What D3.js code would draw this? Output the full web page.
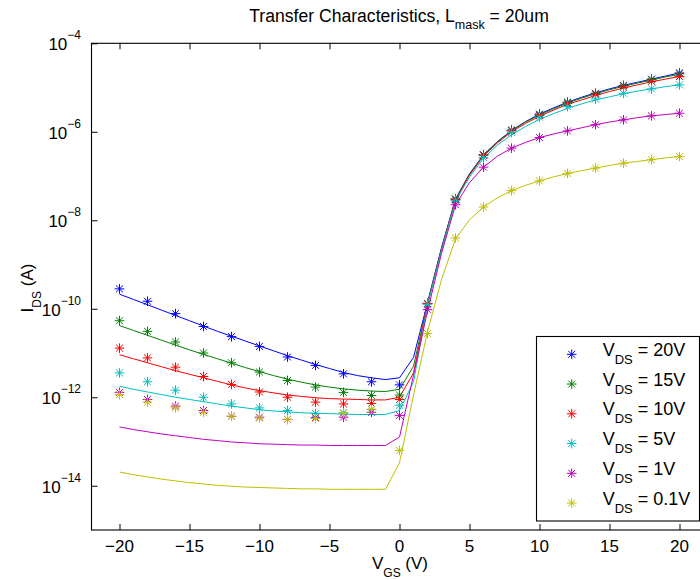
<!DOCTYPE html>
<html>
<head>
<meta charset="utf-8">
<script src="https://cdn.jsdelivr.net/npm/d3@7"></script>
<style>
  body { margin: 0; background: #fff; }
  svg { display: block; font-family: "Liberation Sans", Arial, sans-serif; }
</style>
</head>
<body>
<svg id="chart" width="700" height="580"></svg>
<script>
// gate voltage of the measured points (V)
const vgsMeas = [-20, -18, -16, -14, -12, -10, -8, -6, -4, -2, 0, 2, 4, 6, 8, 10, 12, 14, 16, 18, 20];
// gate voltage of the model curves (V)
const vgsFit = [-20, -19, -18, -17, -16, -15, -14, -13, -12, -11, -10, -9, -8, -7, -6, -5, -4, -3, -2, -1,
  0, 1, 2, 3, 4, 5, 6, 7, 8, 9, 10, 11, 12, 13, 14, 15, 16, 17, 18, 19, 20];

const seriesNames = ['20V', '15V', '10V', '5V', '1V', '0.1V'];
const seriesColors = ['#0000ff', '#008000', '#ff0000', '#00bfbf', '#bf00bf', '#bfbf00'];

// measured points, log10 of I_DS (A)
const meas20 = [-9.55, -9.83, -10.11, -10.40, -10.63, -10.85, -11.09, -11.28, -11.47, -11.65, -11.72, -9.88, -7.52, -6.52, -5.96, -5.60, -5.33, -5.13, -4.95, -4.81, -4.67];
const meas15 = [-10.27, -10.51, -10.75, -11.00, -11.22, -11.43, -11.62, -11.77, -11.89, -11.96, -11.95, -9.88, -7.52, -6.52, -5.97, -5.61, -5.34, -5.14, -4.96, -4.82, -4.69];
const meas10 = [-10.89, -11.11, -11.32, -11.53, -11.71, -11.88, -12.00, -12.11, -12.15, -12.14, -12.05, -9.88, -7.53, -6.53, -5.98, -5.63, -5.36, -5.16, -4.99, -4.86, -4.75];
const meas5 = [-11.45, -11.65, -11.84, -12.00, -12.15, -12.24, -12.30, -12.37, -12.35, -12.28, -12.18, -9.90, -7.55, -6.58, -6.02, -5.67, -5.43, -5.26, -5.13, -5.03, -4.94];
const meas1 = [-11.89, -12.05, -12.20, -12.30, -12.43, -12.45, -12.50, -12.46, -12.45, -12.34, -12.41, -10.02, -7.65, -6.80, -6.37, -6.13, -5.98, -5.84, -5.73, -5.64, -5.58];
const meas01 = [-11.94, -12.11, -12.24, -12.34, -12.43, -12.47, -12.50, -12.48, -12.36, -12.27, -13.20, -10.56, -8.40, -7.70, -7.33, -7.11, -6.94, -6.82, -6.71, -6.63, -6.56];

// model curves, log10 of I_DS (A)
const fit20 = [-9.67, -9.79, -9.91, -10.03, -10.15, -10.27, -10.39, -10.51, -10.62, -10.73, -10.84, -10.95, -11.06, -11.16, -11.26, -11.35, -11.44, -11.51, -11.56, -11.60,
  -11.56, -11.10, -9.86, -8.62, -7.52, -6.95, -6.52, -6.22, -5.97, -5.77, -5.60, -5.46, -5.33, -5.22, -5.12, -5.03, -4.95, -4.88, -4.81, -4.74, -4.67];
const fit15 = [-10.38, -10.49, -10.60, -10.71, -10.82, -10.93, -11.03, -11.13, -11.23, -11.33, -11.42, -11.51, -11.59, -11.66, -11.72, -11.77, -11.81, -11.84, -11.86, -11.87,
  -11.82, -11.30, -9.88, -8.64, -7.53, -6.96, -6.53, -6.23, -5.98, -5.78, -5.62, -5.48, -5.35, -5.24, -5.14, -5.05, -4.97, -4.90, -4.83, -4.76, -4.70];
const fit10 = [-11.04, -11.13, -11.22, -11.31, -11.40, -11.48, -11.56, -11.64, -11.72, -11.79, -11.85, -11.90, -11.95, -11.98, -12.01, -12.03, -12.04, -12.05, -12.06, -12.06,
  -12.00, -11.45, -9.90, -8.66, -7.55, -6.98, -6.55, -6.25, -6.00, -5.81, -5.65, -5.51, -5.38, -5.28, -5.18, -5.09, -5.01, -4.94, -4.87, -4.81, -4.75];
const fit5 = [-11.75, -11.82, -11.88, -11.94, -12.00, -12.05, -12.10, -12.15, -12.20, -12.24, -12.28, -12.31, -12.33, -12.35, -12.36, -12.37, -12.38, -12.39, -12.39, -12.39,
  -12.30, -11.65, -9.92, -8.68, -7.57, -7.02, -6.60, -6.30, -6.07, -5.88, -5.72, -5.59, -5.47, -5.37, -5.28, -5.21, -5.14, -5.08, -5.03, -4.98, -4.94];
const fit1 = [-12.67, -12.73, -12.78, -12.83, -12.87, -12.91, -12.95, -12.98, -13.01, -13.03, -13.05, -13.06, -13.07, -13.08, -13.08, -13.09, -13.09, -13.09, -13.09, -13.09,
  -12.90, -11.50, -10.05, -8.75, -7.65, -7.15, -6.80, -6.55, -6.37, -6.24, -6.13, -6.05, -5.98, -5.91, -5.84, -5.78, -5.73, -5.68, -5.64, -5.61, -5.58];
const fit01 = [-13.69, -13.75, -13.80, -13.85, -13.89, -13.93, -13.96, -13.99, -14.01, -14.03, -14.04, -14.05, -14.06, -14.07, -14.07, -14.08, -14.08, -14.08, -14.08, -14.08,
  -13.48, -11.95, -10.52, -9.34, -8.42, -7.99, -7.70, -7.49, -7.33, -7.21, -7.11, -7.02, -6.94, -6.88, -6.82, -6.76, -6.71, -6.67, -6.63, -6.59, -6.56];

const xTicks = [-20, -15, -10, -5, 0, 5, 10, 15, 20];
const yTickExp = [-4, -6, -8, -10, -12, -14];

const measAll = [meas20, meas15, meas10, meas5, meas1, meas01];
const fitAll = [fit20, fit15, fit10, fit5, fit1, fit01];

const svg = d3.select('#chart');
const plotLeft = 91.5, plotRight = 707.5, plotTop = 43.3, plotBottom = 530;

const x = d3.scaleLinear().domain([-22, 22]).range([plotLeft, plotRight]);
const y = d3.scaleLog().domain([1e-15, 1e-4]).range([plotBottom, plotTop]);

svg.append('defs').append('clipPath').attr('id', 'plotclip')
  .append('rect').attr('x', plotLeft).attr('y', plotTop)
  .attr('width', plotRight - plotLeft).attr('height', plotBottom - plotTop);

// model curves
const line = d3.line()
  .x(d => x(d[0]))
  .y(d => y(Math.pow(10, d[1])));

const g = svg.append('g').attr('clip-path', 'url(#plotclip)');

const star = function(r) {
  let d = r * 0.72;
  return 'M' + (-r) + ',0H' + r + 'M0,' + (-r) + 'V' + r +
    'M' + (-d) + ',' + (-d) + 'L' + d + ',' + d +
    'M' + (-d) + ',' + d + 'L' + d + ',' + (-d);
};

seriesNames.forEach(function(name, i) {
  g.append('path')
    .attr('d', line(vgsFit.map((v, k) => [v, fitAll[i][k]])))
    .attr('fill', 'none')
    .attr('stroke', seriesColors[i])
    .attr('stroke-width', 1);
});

seriesNames.forEach(function(name, i) {
  g.append('g').selectAll('path')
    .data(vgsMeas.map((v, k) => [v, measAll[i][k]]))
    .join('path')
    .attr('transform', d => 'translate(' + x(d[0]) + ',' + y(Math.pow(10, d[1])) + ')')
    .attr('d', star(4.8))
    .attr('fill', 'none')
    .attr('stroke', seriesColors[i])
    .attr('stroke-width', 1);
});

// axes box
svg.append('rect')
  .attr('x', plotLeft).attr('y', plotTop)
  .attr('width', plotRight - plotLeft).attr('height', plotBottom - plotTop)
  .attr('fill', 'none').attr('stroke', '#000').attr('stroke-width', 1.1);

const xAxisB = d3.axisBottom(x).tickValues(xTicks).tickSize(-6).tickFormat('');
const xAxisT = d3.axisTop(x).tickValues(xTicks).tickSize(-6).tickFormat('');
const yAxisL = d3.axisLeft(y).tickValues(yTickExp.map(e => Math.pow(10, e))).tickSize(-6).tickFormat('');

svg.append('g').attr('transform', 'translate(0,' + plotBottom + ')').call(xAxisB);
svg.append('g').attr('transform', 'translate(0,' + plotTop + ')').call(xAxisT);
svg.append('g').attr('transform', 'translate(' + plotLeft + ',0)').call(yAxisL);
svg.selectAll('.domain').remove();
svg.selectAll('.tick line').attr('stroke', '#000').attr('stroke-width', 1);

// tick labels
svg.append('g').selectAll('text')
  .data(xTicks)
  .join('text')
  .attr('x', d => x(d))
  .attr('y', 552)
  .attr('text-anchor', 'middle')
  .attr('font-size', 17)
  .text(d => d < 0 ? '\u2212' + Math.abs(d) : d);

const yLab = svg.append('g').selectAll('text')
  .data(yTickExp)
  .join('text')
  .attr('x', 81)
  .attr('y', d => y(Math.pow(10, d)) + 7)
  .attr('text-anchor', 'end')
  .attr('font-size', 17);
yLab.append('tspan').text('10');
yLab.append('tspan').attr('dy', -11).attr('font-size', 12).text(d => '\u2212' + Math.abs(d));

// title
const title = svg.append('text')
  .attr('x', 399).attr('y', 22)
  .attr('text-anchor', 'middle')
  .attr('font-size', 17.6);
title.append('tspan').text('Transfer Characteristics, L');
title.append('tspan').attr('dy', 7).attr('font-size', 12.5).text('mask');
title.append('tspan').attr('dy', -7).text(' = 20um');

// x label
const xl = svg.append('text')
  .attr('x', 400).attr('y', 569)
  .attr('text-anchor', 'middle')
  .attr('font-size', 17);
xl.append('tspan').text('V');
xl.append('tspan').attr('dy', 8).attr('font-size', 12).text('GS');
xl.append('tspan').attr('dy', -8).text(' (V)');

// y label
const yl = svg.append('text')
  .attr('transform', 'translate(33,288) rotate(-90)')
  .attr('text-anchor', 'middle')
  .attr('font-size', 17);
yl.append('tspan').text('I');
yl.append('tspan').attr('dy', 8).attr('font-size', 12).text('DS');
yl.append('tspan').attr('dy', -8).text(' (A)');

// legend
const legX = 536.5, legY = 336.5, legW = 163, legH = 184.5;
const leg = svg.append('g');
leg.append('rect')
  .attr('x', legX).attr('y', legY).attr('width', legW).attr('height', legH)
  .attr('fill', '#fff').attr('stroke', '#000').attr('stroke-width', 1.1);

seriesNames.forEach(function(name, i) {
  let cy = 354.3 + i * 29.75;
  leg.append('path')
    .attr('transform', 'translate(571.7,' + cy + ')')
    .attr('d', star(4.8))
    .attr('fill', 'none')
    .attr('stroke', seriesColors[i])
    .attr('stroke-width', 1);
  let t = leg.append('text')
    .attr('x', 602.7).attr('y', cy + 1.5)
    .attr('font-size', 18);
  t.append('tspan').text('V');
  t.append('tspan').attr('dy', 8).attr('font-size', 13).text('DS');
  t.append('tspan').attr('dy', -8).text(' = ' + name);
});
</script>
</body>
</html>
